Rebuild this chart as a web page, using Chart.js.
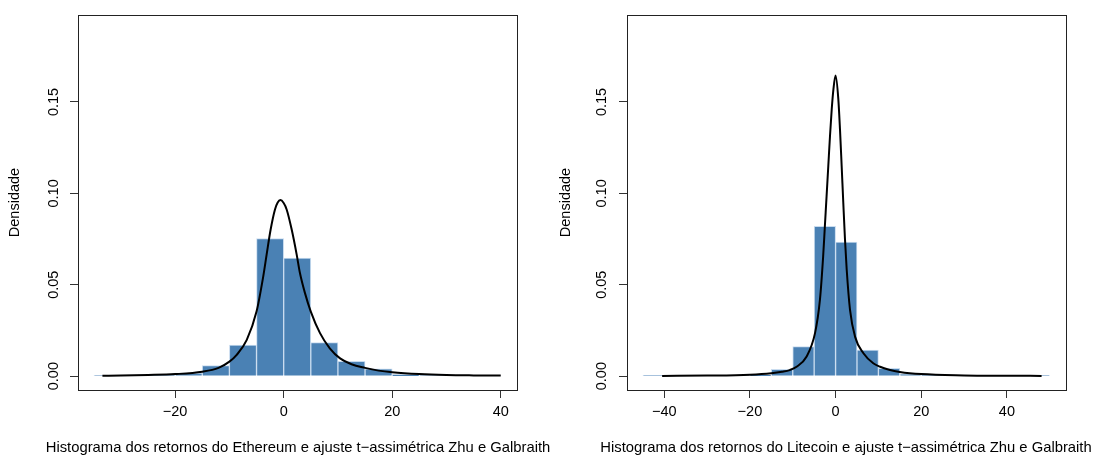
<!DOCTYPE html>
<html>
<head>
    <title>Histogramas dos retornos - Ethereum e Litecoin</title>
    <script src="https://cdn.jsdelivr.net/npm/chart.js"></script>
    <style>
        body { margin: 0; background: #fff; }
        .row { display: flex; width: 1094px; height: 457px; position: relative; overflow: hidden; }
        .panel { width: 547px; height: 457px; position: relative; }
        .xlab {
            position: absolute;
            top: 438px;
            width: 600px;
            height: 18px;
            line-height: 18px;
            text-align: center;
            white-space: nowrap;
            font-family: 'Liberation Sans', Arial, sans-serif;
            font-size: 14.8px;
            color: #000;
        }
    </style>
</head>
<body>
<div class="row">
    <div class="panel"><canvas id="ethChart" width="547" height="457"></canvas></div>
    <div class="panel"><canvas id="ltcChart" width="547" height="457"></canvas></div>
    <div class="xlab" style="left: -2px;">Histograma dos retornos do Ethereum e ajuste t−assimétrica Zhu e Galbraith</div>
    <div class="xlab" style="left: 546px;">Histograma dos retornos do Litecoin e ajuste t−assimétrica Zhu e Galbraith</div>
</div>
<script>
// Ethereum: centros das classes (largura 5) e densidades
const ethBinMids = [-32.5, -27.5, -22.5, -17.5, -12.5, -7.5, -2.5, 2.5, 7.5, 12.5, 17.5, 22.5, 27.5, 32.5, 37.5];
const ethDensity = [0.0002, 0.0001, 0.0003, 0.0016, 0.0057, 0.0170, 0.0753, 0.0646, 0.0183, 0.0081, 0.0040, 0.0009, 0.0004, 0.0001, 0.0001];
// curva t-assimétrica ajustada
const ethCurveX = [-33.4, -30, -25, -20, -15, -12, -10, -8.7, -6.8, -5, -3.76, -3.14, -2.4, -1.6, -1.1, -0.6, 0, 0.55, 1.48, 2.4, 3.0, 3.93, 5.0, 6.7, 8.5, 10.4, 12.5, 15, 17.5, 20, 25, 30, 35, 40];
const ethCurveY = [0.0002, 0.0003, 0.0006, 0.0011, 0.0024, 0.0045, 0.0079, 0.0115, 0.0198, 0.0353, 0.0546, 0.0665, 0.0802, 0.0912, 0.0950, 0.0963, 0.0947, 0.0912, 0.0802, 0.0665, 0.0564, 0.0454, 0.0353, 0.0235, 0.0152, 0.0097, 0.0065, 0.0045, 0.0030, 0.0021, 0.0011, 0.0006, 0.0004, 0.0003];
const ethXTicks = [-20, 0, 20, 40];

// Litecoin
const ltcBinMids = [-42.5, -37.5, -32.5, -27.5, -22.5, -17.5, -12.5, -7.5, -2.5, 2.5, 7.5, 12.5, 17.5, 22.5, 27.5, 32.5, 37.5, 42.5, 47.5];
const ltcDensity = [0.0001, 0, 0, 0.0001, 0.0002, 0.0005, 0.0037, 0.0161, 0.0820, 0.0734, 0.0143, 0.0042, 0.0012, 0.0003, 0.0001, 0, 0.0001, 0, 0.0001];
const ltcCurveX = [-40.5, -30, -20, -15, -12.5, -10.7, -9.1, -6.8, -4.8, -3.65, -2.9, -2.5, -2.1, -1.7, -1.3, -0.9, -0.5, 0, 0.64, 1.03, 1.42, 1.8, 2.2, 2.6, 3.37, 4.54, 6.5, 8.8, 10.4, 12.5, 15, 20, 30, 40, 48.1];
const ltcCurveY = [0.0001, 0.0003, 0.0008, 0.0016, 0.0024, 0.0033, 0.0051, 0.0106, 0.0235, 0.0418, 0.0655, 0.0820, 0.0985, 0.1150, 0.1315, 0.1460, 0.1570, 0.1645, 0.1516, 0.1350, 0.1150, 0.0949, 0.0747, 0.0582, 0.0363, 0.0216, 0.0125, 0.0070, 0.0051, 0.0035, 0.0023, 0.0011, 0.0004, 0.0002, 0.0001];
const ltcXTicks = [-40, -20, 0, 20, 40];

const yTicks = [0, 0.05, 0.10, 0.15];

const FONT = "'Liberation Sans', Arial, sans-serif";
const FSIZE = 14.5;

// moldura da área do gráfico (como box() no R)
const framePlugin = {
    id: 'frame',
    afterDatasetsDraw(chart) {
        const a = chart.chartArea, ctx = chart.ctx;
        ctx.save();
        ctx.strokeStyle = '#222';
        ctx.lineWidth = 1;
        ctx.strokeRect(Math.round(a.left) + 0.5, Math.round(a.top) + 0.5,
            Math.round(a.right - a.left), Math.round(a.bottom - a.top));
        ctx.restore();
    }
};

function makeChart(id, mids, dens, cx, cy, xTicks, xMin, xMax, leftW, rightPad, yPad, titlePad) {
    const ctx = document.getElementById(id).getContext('2d');
    return new Chart(ctx, {
        type: 'bar',
        data: {
            datasets: [
                {
                    type: 'line',
                    data: cx.map((x, i) => ({ x: x, y: cy[i] })),
                    borderColor: '#000',
                    borderWidth: 2,
                    pointRadius: 0,
                    cubicInterpolationMode: 'monotone',
                    fill: false,
                    order: 0
                },
                {
                    type: 'bar',
                    data: mids.map((m, i) => ({ x: m, y: dens[i] })),
                    backgroundColor: '#4a81b4',
                    borderColor: '#c9dcef',
                    borderWidth: { top: 1, left: 1, right: 1, bottom: 0 },
                    borderSkipped: false,
                    barPercentage: 1.0,
                    categoryPercentage: 1.0,
                    order: 1
                }
            ]
        },
        options: {
            responsive: false,
            animation: false,
            layout: { padding: { top: 15, right: rightPad, bottom: 0, left: 0 } },
            plugins: {
                legend: { display: false },
                tooltip: { enabled: false }
            },
            scales: {
                x: {
                    type: 'linear',
                    min: xMin,
                    max: xMax,
                    offset: false,
                    afterBuildTicks: s => { s.ticks = xTicks.map(v => ({ value: v })); },
                    afterFit: s => { s.height = 67; },
                    ticks: {
                        color: '#000',
                        font: { family: FONT, size: FSIZE },
                        padding: 5,
                        maxRotation: 0,
                        callback: v => String(v).replace('-', '\u2212')
                    },
                    grid: { display: true, drawOnChartArea: false, drawTicks: true, tickLength: 8, color: '#333', offset: false },
                    border: { display: false }
                },
                y: {
                    min: -0.0076,
                    max: 0.1976,
                    afterBuildTicks: s => { s.ticks = yTicks.map(v => ({ value: v })); },
                    afterFit: s => { s.width = leftW; },
                    ticks: {
                        color: '#000',
                        font: { family: FONT, size: FSIZE },
                        minRotation: 90,
                        maxRotation: 90,
                        crossAlign: 'center',
                        padding: yPad,
                        callback: v => v.toFixed(2)
                    },
                    grid: { display: true, drawOnChartArea: false, drawTicks: true, tickLength: 8, color: '#333' },
                    border: { display: false },
                    title: {
                        display: true,
                        text: 'Densidade',
                        color: '#000',
                        font: { family: FONT, size: FSIZE },
                        padding: { top: titlePad, bottom: 0 }
                    }
                }
            }
        },
        plugins: [framePlugin]
    });
}

makeChart('ethChart', ethBinMids, ethDensity, ethCurveX, ethCurveY, ethXTicks, -37.9, 43.0, 78, 30, 2, 6);
makeChart('ltcChart', ltcBinMids, ltcDensity, ltcCurveX, ltcCurveY, ltcXTicks, -48.7, 53.8, 80, 28, 3, 10);
</script>
</body>
</html>
